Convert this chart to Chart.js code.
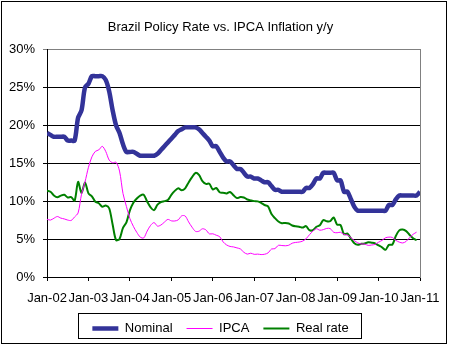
<!DOCTYPE html>
<html lang="en">
<head>
  <meta charset="UTF-8" />
  <title>Brazil Policy Rate vs. IPCA Inflation y/y</title>
  <style>
    body { margin: 0; background: #fff; }
    #wrap { position: relative; width: 451px; height: 347px; }
  </style>
</head>
<body>
<div id="wrap"><canvas id="rateChart" width="451" height="347"></canvas></div>

<script src="https://cdn.jsdelivr.net/npm/chart.js@4.4.3"></script>
<script>
  // year ticks, one every 12 months starting Jan-02
  const tickLabels = ['Jan-02', 'Jan-03', 'Jan-04', 'Jan-05', 'Jan-06', 'Jan-07', 'Jan-08', 'Jan-09', 'Jan-10', 'Jan-11'];

  // monthly values, Jan-02 .. Jan-11 (%)
  const nominal = [
    19, 18.75, 18.5, 18.5, 18.5, 18.5, 18, 18, 18, 21, 22, 25,
    25.5, 26.5, 26.5, 26.5, 26.5, 26, 24.5, 22, 20, 19, 17.5, 16.5,
    16.5, 16.5, 16.25, 16, 16, 16, 16, 16, 16.25, 16.75, 17.25, 17.75,
    18.25, 18.75, 19.25, 19.5, 19.75, 19.75, 19.75, 19.75, 19.5, 19, 18.5, 18,
    17.25, 17.25, 16.5, 15.75, 15.25, 15.25, 14.75, 14.25, 14.25, 13.75, 13.25, 13.25,
    13, 13, 12.75, 12.5, 12.5, 12, 11.5, 11.5, 11.25, 11.25, 11.25, 11.25,
    11.25, 11.25, 11.25, 11.75, 11.75, 12.25, 13, 13, 13.75, 13.75, 13.75, 13.75,
    12.75, 12.75, 11.25, 11.25, 10.25, 9.25, 8.75, 8.75, 8.75, 8.75, 8.75, 8.75,
    8.75, 8.75, 8.75, 9.5, 9.5, 10.25, 10.75, 10.75, 10.75, 10.75, 10.75, 10.75,
    11.25
  ];
  const ipca = [
    7.62, 7.51, 7.75, 7.98, 7.77, 7.66, 7.51, 7.46, 7.93, 8.45, 10.93, 12.53,
    14.47, 15.85, 16.57, 16.77, 17.24, 16.57, 15.43, 15.07, 15.14, 13.98, 11.02, 9.30,
    7.71, 6.69, 5.89, 5.26, 5.15, 6.06, 6.81, 7.18, 6.71, 6.86, 7.24, 7.60,
    7.41, 7.39, 7.54, 8.07, 8.05, 7.27, 6.57, 6.02, 6.04, 6.36, 6.22, 5.69,
    5.70, 5.51, 5.32, 4.63, 4.23, 4.03, 3.97, 3.84, 3.70, 3.26, 3.02, 3.14,
    2.99, 3.02, 2.96, 3.00, 3.18, 3.69, 3.74, 4.18, 4.15, 4.12, 4.19, 4.46,
    4.56, 4.61, 4.73, 5.04, 5.58, 6.06, 6.37, 6.17, 6.25, 6.41, 6.39, 5.90,
    5.84, 5.90, 5.61, 5.53, 5.20, 4.80, 4.50, 4.36, 4.34, 4.17, 4.22, 4.31,
    4.59, 4.83, 5.17, 5.26, 5.22, 4.84, 4.60, 4.49, 4.70, 5.20, 5.63, 5.91
  ];
  const realRate = [
    11.38, 11.24, 10.75, 10.52, 10.73, 10.84, 10.49, 10.54, 10.07, 12.55, 11.07, 12.47,
    11.03, 10.65, 9.93, 9.73, 9.26, 9.43, 9.07, 6.93, 4.86, 5.02, 6.48, 7.20,
    8.79, 9.81, 10.36, 10.74, 10.85, 9.94, 9.19, 8.82, 9.54, 9.89, 10.01, 10.15,
    10.84, 11.36, 11.71, 11.43, 11.70, 12.48, 13.18, 13.73, 13.46, 12.64, 12.28, 12.31,
    11.55, 11.74, 11.18, 11.12, 11.02, 11.22, 10.78, 10.41, 10.55, 10.49, 10.23, 10.11,
    10.01, 9.98, 9.79, 9.50, 9.32, 8.31, 7.76, 7.32, 7.10, 7.13, 7.06, 6.79,
    6.69, 6.64, 6.52, 6.71, 6.17, 6.19, 6.63, 6.83, 7.50, 7.34, 7.36, 7.85,
    6.91, 6.85, 5.64, 5.72, 5.05, 4.45, 4.25, 4.39, 4.41, 4.58, 4.53, 4.44,
    4.16, 3.92, 3.58, 4.24, 4.28, 5.41, 6.15, 6.26, 6.05, 5.55, 5.12, 4.84
  ];

  const toPoints = arr => arr.map((v, i) => ({ x: i, y: v }));

  Chart.defaults.font.family = '"Liberation Sans", Arial, sans-serif';
  Chart.defaults.font.size = 13;
  Chart.defaults.color = '#000';

  // outer frame + box round the legend
  const framePlugin = {
    id: 'frame',
    beforeDraw(chart) {
      const ctx = chart.ctx;
      ctx.save();
      ctx.fillStyle = '#fff';
      ctx.fillRect(0, 0, chart.width, chart.height);
      ctx.restore();
    },
    afterDraw(chart) {
      const ctx = chart.ctx;
      ctx.save();
      ctx.strokeStyle = '#000';
      ctx.lineWidth = 1;
      ctx.strokeRect(1.5, 1.5, 445, 342);
      const hb = chart.legend.legendHitBoxes;
      if (hb && hb.length) {
        const l = Math.round(hb[0].left) - 13.5;
        const last = hb[hb.length - 1];
        const r = Math.round(last.left + last.width) + 12.5;
        ctx.strokeRect(l, 313.5, r - l, 25);
      }
      ctx.restore();
    }
  };

  new Chart(document.getElementById('rateChart'), {
    type: 'line',
    data: {
      datasets: [
        { label: 'Nominal', data: toPoints(nominal), borderColor: '#333399', borderWidth: 4.5 },
        { label: 'IPCA', data: toPoints(ipca), borderColor: '#ff00ff', borderWidth: 1 },
        { label: 'Real rate', data: toPoints(realRate), borderColor: '#008000', borderWidth: 2 }
      ]
    },
    options: {
      responsive: false,
      animation: false,
      layout: { padding: { left: 0, right: 10, top: 0, bottom: 2 } },
      elements: { point: { radius: 0 }, line: { tension: 0.3, fill: false } },
      plugins: {
        title: {
          display: true,
          text: 'Brazil Policy Rate vs. IPCA Inflation y/y',
          font: { size: 13, weight: 'normal' },
          color: '#000',
          padding: { top: 20, bottom: 14 }
        },
        legend: {
          position: 'bottom',
          labels: {
            usePointStyle: true,
            pointStyle: 'line',
            pointStyleWidth: 26,
            padding: 14,
            color: '#000',
            font: { size: 13 }
          }
        },
        tooltip: { enabled: false }
      },
      scales: {
        x: {
          type: 'linear',
          min: 0,
          max: 108,
          afterFit: s => { s.height = 31; },
          ticks: {
            stepSize: 12,
            autoSkip: false,
            maxRotation: 0,
            padding: 10,
            callback: v => tickLabels[v / 12]
          },
          grid: { drawOnChartArea: false, tickLength: 4, tickColor: '#000' },
          border: { color: '#000' }
        },
        y: {
          min: 0,
          max: 30,
          afterFit: s => { s.width = 47; },
          ticks: { stepSize: 5, padding: 8, callback: v => v + '%' },
          grid: {
            tickLength: 4,
            color: c => (c.tick && c.tick.value === 30 ? '#808080' : '#000'),
            tickColor: c => (c.tick && c.tick.value === 30 ? '#808080' : '#000')
          },
          border: { color: '#000' }
        },
        y2: {
          position: 'right',
          min: 0,
          max: 30,
          afterFit: s => { s.width = 21; },
          ticks: { display: false },
          grid: { drawOnChartArea: false, drawTicks: false },
          border: { color: '#808080' }
        }
      }
    },
    plugins: [framePlugin]
  });
</script>
</body>
</html>
